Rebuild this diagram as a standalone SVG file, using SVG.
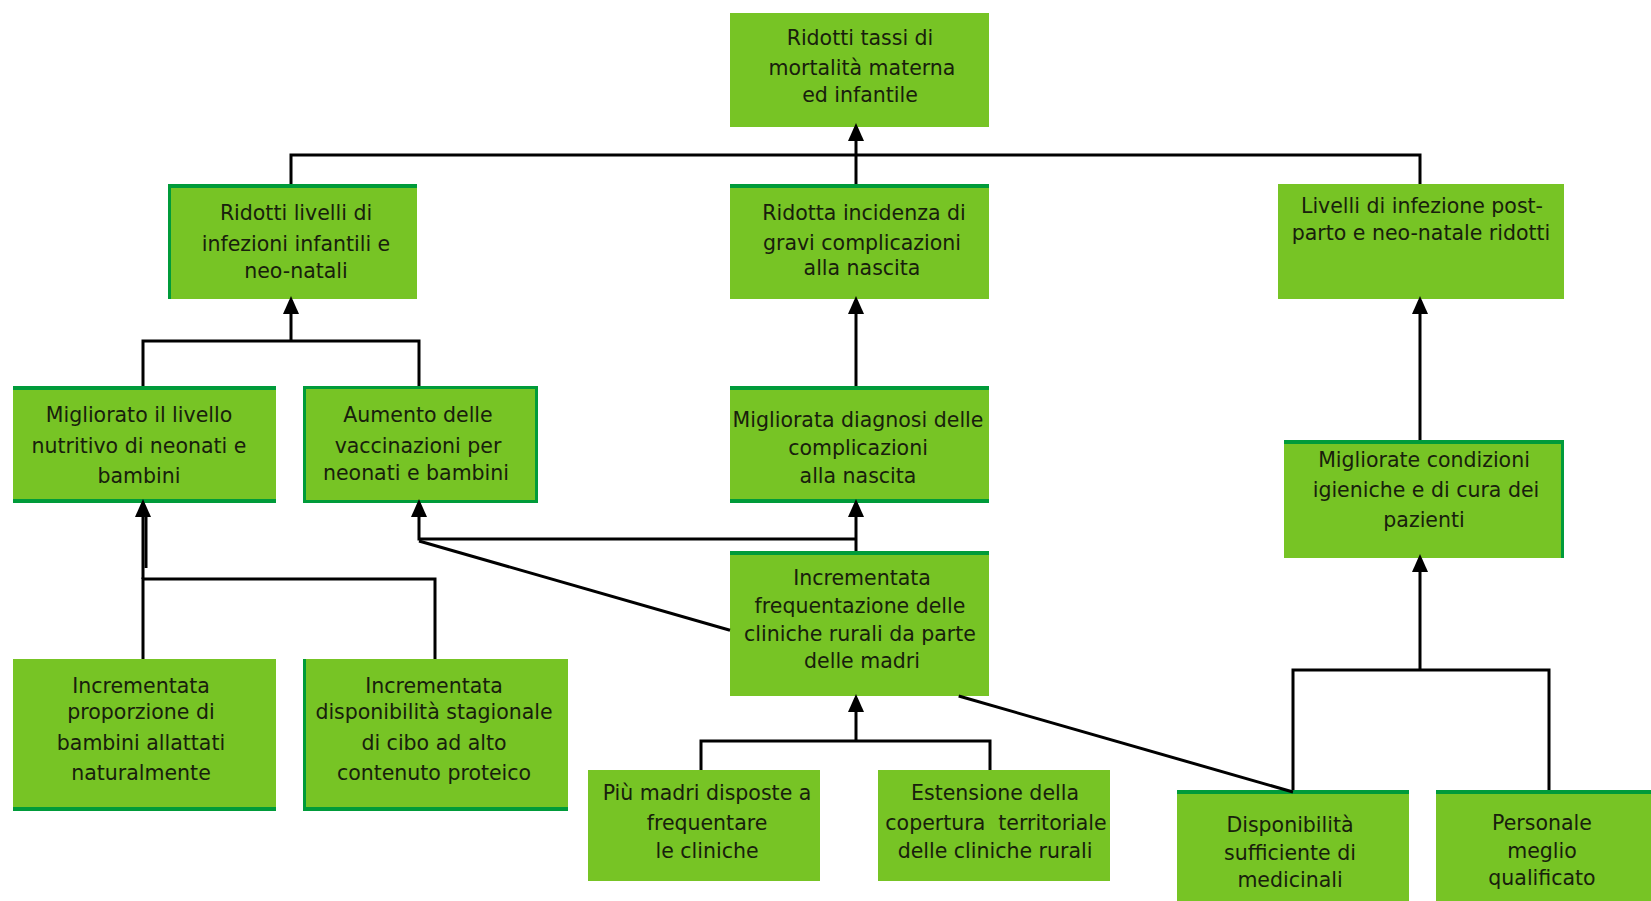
<svg xmlns="http://www.w3.org/2000/svg" width="1651" height="901" viewBox="0 0 1651 901">
  <style>
    .box { fill: #77c425; }
    .edge { fill: #009b3a; }
    .label { font-family: "DejaVu Sans", "Liberation Sans", sans-serif; font-size: 20.5px; fill: #18200c; text-anchor: middle; white-space: pre; }
    .wire { fill: none; stroke: #000; stroke-width: 3; }
  </style>
  <defs>
    <marker id="tip" markerUnits="userSpaceOnUse" viewBox="0 0 18 16" markerWidth="18" markerHeight="16" refX="14" refY="8" orient="auto">
      <path d="M18,8 L0,0 L0,16 Z" fill="#000"/>
    </marker>
  </defs>

  <rect width="1651" height="901" fill="#fff"/>

  <!-- goal -->
  <g id="n-mortalita">
    <rect class="box" x="730" y="13" width="259" height="114"/>
    <text class="label"><tspan x="860" y="45">Ridotti tassi di</tspan><tspan x="862" y="75">mortalità materna</tspan><tspan x="860" y="102">ed infantile</tspan></text>
  </g>

  <!-- second level -->
  <g id="n-infezioni-infantili">
    <rect class="box" x="168" y="184" width="249" height="115"/>
    <rect class="edge" x="168" y="184" width="249" height="4"/>
    <rect class="edge" x="168" y="184" width="3" height="115"/>
    <text class="label"><tspan x="296" y="220">Ridotti livelli di</tspan><tspan x="296" y="251">infezioni infantili e</tspan><tspan x="296" y="278">neo-natali</tspan></text>
  </g>
  <g id="n-complicazioni">
    <rect class="box" x="730" y="184" width="259" height="115"/>
    <rect class="edge" x="730" y="184" width="259" height="4"/>
    <text class="label"><tspan x="864" y="220">Ridotta incidenza di</tspan><tspan x="862" y="250">gravi complicazioni</tspan><tspan x="862" y="275">alla nascita</tspan></text>
  </g>
  <g id="n-infezione-postparto">
    <rect class="box" x="1278" y="184" width="286" height="115"/>
    <text class="label"><tspan x="1422" y="213">Livelli di infezione post-</tspan><tspan x="1421" y="240">parto e neo-natale ridotti</tspan></text>
  </g>

  <!-- third level -->
  <g id="n-nutrizione">
    <rect class="box" x="13" y="386" width="263" height="117"/>
    <rect class="edge" x="13" y="386" width="263" height="4"/>
    <rect class="edge" x="13" y="499" width="263" height="4"/>
    <text class="label"><tspan x="139" y="422">Migliorato il livello</tspan><tspan x="139" y="453">nutritivo di neonati e</tspan><tspan x="139" y="483">bambini</tspan></text>
  </g>
  <g id="n-vaccinazioni">
    <rect class="box" x="303" y="386" width="235" height="117"/>
    <rect x="304.5" y="387.5" width="232" height="114" fill="none" stroke="#009b3a" stroke-width="3"/>
    <text class="label"><tspan x="418" y="422">Aumento delle</tspan><tspan x="418" y="453">vaccinazioni per</tspan><tspan x="416" y="480">neonati e bambini</tspan></text>
  </g>
  <g id="n-diagnosi">
    <rect class="box" x="730" y="386" width="259" height="117"/>
    <rect class="edge" x="730" y="386" width="259" height="4"/>
    <rect class="edge" x="730" y="499" width="259" height="4"/>
    <text class="label"><tspan x="858" y="427">Migliorata diagnosi delle</tspan><tspan x="858" y="455">complicazioni</tspan><tspan x="858" y="483">alla nascita</tspan></text>
  </g>
  <g id="n-igiene">
    <rect class="box" x="1284" y="440" width="280" height="118"/>
    <rect class="edge" x="1284" y="440" width="280" height="4"/>
    <rect class="edge" x="1561" y="440" width="3" height="118"/>
    <text class="label"><tspan x="1424" y="467">Migliorate condizioni</tspan><tspan x="1426" y="497">igieniche e di cura dei</tspan><tspan x="1424" y="527">pazienti</tspan></text>
  </g>

  <!-- fourth level -->
  <g id="n-frequentazione">
    <rect class="box" x="730" y="551" width="259" height="145"/>
    <rect class="edge" x="730" y="551" width="259" height="4"/>
    <text class="label"><tspan x="862" y="585">Incrementata</tspan><tspan x="860" y="613">frequentazione delle</tspan><tspan x="860" y="641">cliniche rurali da parte</tspan><tspan x="862" y="668">delle madri</tspan></text>
  </g>
  <g id="n-allattamento">
    <rect class="box" x="13" y="659" width="263" height="152"/>
    <rect class="edge" x="13" y="807" width="263" height="4"/>
    <text class="label"><tspan x="141" y="693">Incrementata</tspan><tspan x="141" y="719">proporzione di</tspan><tspan x="141" y="750">bambini allattati</tspan><tspan x="141" y="780">naturalmente</tspan></text>
  </g>
  <g id="n-cibo">
    <rect class="box" x="303" y="659" width="265" height="152"/>
    <rect class="edge" x="303" y="659" width="3" height="152"/>
    <rect class="edge" x="303" y="807" width="265" height="4"/>
    <text class="label"><tspan x="434" y="693">Incrementata</tspan><tspan x="434" y="719">disponibilità stagionale</tspan><tspan x="434" y="750">di cibo ad alto</tspan><tspan x="434" y="780">contenuto proteico</tspan></text>
  </g>

  <!-- bottom level -->
  <g id="n-madri">
    <rect class="box" x="588" y="770" width="232" height="111"/>
    <text class="label"><tspan x="707" y="800">Più madri disposte a</tspan><tspan x="707" y="830">frequentare</tspan><tspan x="707" y="858">le cliniche</tspan></text>
  </g>
  <g id="n-estensione">
    <rect class="box" x="878" y="770" width="232" height="111"/>
    <text class="label"><tspan x="995" y="800">Estensione della</tspan><tspan x="996" y="830">copertura  territoriale</tspan><tspan x="995" y="858">delle cliniche rurali</tspan></text>
  </g>
  <g id="n-medicinali">
    <rect class="box" x="1177" y="790" width="232" height="111"/>
    <rect class="edge" x="1177" y="790" width="232" height="4"/>
    <text class="label"><tspan x="1290" y="832">Disponibilità</tspan><tspan x="1290" y="860">sufficiente di</tspan><tspan x="1290" y="887">medicinali</tspan></text>
  </g>
  <g id="n-personale">
    <rect class="box" x="1436" y="790" width="215" height="111"/>
    <rect class="edge" x="1436" y="790" width="215" height="4"/>
    <text class="label"><tspan x="1542" y="830">Personale</tspan><tspan x="1542" y="858">meglio</tspan><tspan x="1542" y="885">qualificato</tspan></text>
  </g>

  <!-- connectors -->
  <g id="connectors" class="wire">
    <path class="wire" d="M291,184 V155 H1420 V184"/>
    <path class="wire" d="M856,184 V127" marker-end="url(#tip)"/>

    <path class="wire" d="M143,386 V341 H419 V386"/>
    <path class="wire" d="M291,341 V300" marker-end="url(#tip)"/>
    <path class="wire" d="M856,386 V300" marker-end="url(#tip)"/>
    <path class="wire" d="M1420,440 V300" marker-end="url(#tip)"/>

    <path class="wire" d="M143,659 V579 H435 V659"/>
    <path class="wire" d="M143,579 V503" marker-end="url(#tip)"/>
    <path class="wire" d="M146,516 V568"/>

    <path class="wire" d="M856,551 V503" marker-end="url(#tip)"/>
    <path class="wire" d="M856,539 H419 V503" marker-end="url(#tip)"/>
    <path class="wire" d="M419,541 L730,630.3"/>
    <path class="wire" d="M958.7,696 L1293,792"/>

    <path class="wire" d="M701,770 V741 H990 V770"/>
    <path class="wire" d="M856,741 V698" marker-end="url(#tip)"/>

    <path class="wire" d="M1293,790 V670 H1549 V790"/>
    <path class="wire" d="M1420,670 V558" marker-end="url(#tip)"/>
  </g>
</svg>
